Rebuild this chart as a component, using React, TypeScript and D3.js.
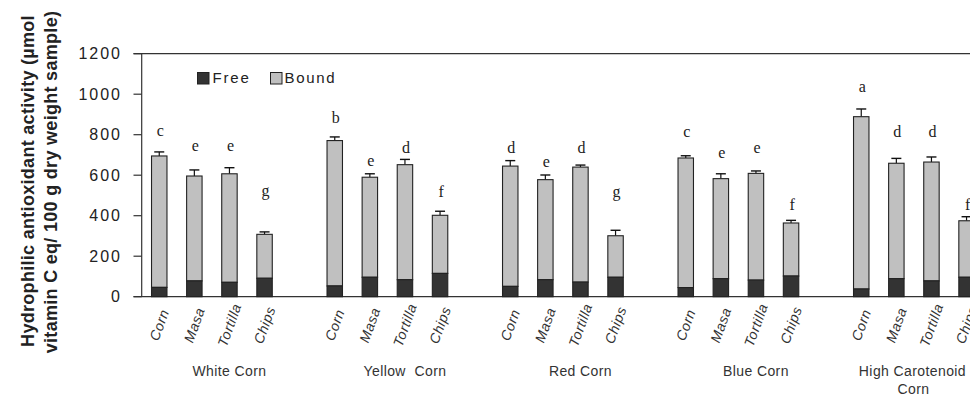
import React from "react";
import * as d3 from "d3";

const groups = ["White Corn", "Yellow  Corn", "Red Corn", "Blue Corn", "High Carotenoid Corn"];
const products = ["Corn", "Masa", "Tortilla", "Chips"];
const freeValues = [
  [46, 78, 71, 91],
  [53, 96, 84, 115],
  [51, 84, 72, 96],
  [45, 89, 82, 102],
  [38, 89, 78, 96],
];
const boundValues = [
  [649, 518, 536, 217],
  [718, 494, 568, 287],
  [594, 494, 568, 205],
  [640, 494, 527, 262],
  [851, 570, 587, 279],
];
const errValues = [
  [20, 30, 30, 12],
  [18, 17, 26, 20],
  [27, 23, 10, 27],
  [11, 24, 12, 13],
  [38, 24, 25, 20],
];
const letters = [
  ["c", "e", "e", "g"],
  ["b", "e", "d", "f"],
  ["d", "e", "d", "g"],
  ["c", "e", "e", "f"],
  ["a", "d", "d", "f"],
];
const letterAt = [
  [793, 719, 719, 497],
  [859, 645, 711, 494],
  [711, 640, 711, 490],
  [789, 687, 712, 426],
  [1009, 787, 787, 428],
];
const yTicks = [0, 200, 400, 600, 800, 1000, 1200];

const W = 970;
const H = 395;
const axisX = 141.7;
const slotsPerGroup = 5;
const slots: string[] = [];
groups.forEach((g, gi) => {
  for (let s = 0; s < slotsPerGroup; s++) slots.push(`${gi}-${s}`);
});

const x = d3
  .scaleBand<string>()
  .domain(slots)
  .range([axisX, axisX + slots.length * 35.1])
  .paddingInner(0.56)
  .paddingOuter(0.28);
const y = d3.scaleLinear().domain([0, 1200]).range([296.7, 53.7]);

const sans = "Liberation Sans, Arial, Helvetica, sans-serif";
const serif = "Liberation Serif, Times New Roman, serif";

export default function App() {
  const bw = x.bandwidth();
  const bars: React.ReactNode[] = [];
  groups.forEach((g, gi) => {
    products.forEach((p, pi) => {
      const key = `${gi}-${pi}`;
      const x0 = x(key)!;
      const cx = x0 + bw / 2;
      const f = freeValues[gi][pi];
      const b = boundValues[gi][pi];
      const tot = f + b;
      const e = errValues[gi][pi];
      bars.push(
        <g key={key}>
          <line x1={cx} x2={cx} y1={y(tot)} y2={y(tot + e)} stroke="#111" strokeWidth={1.2} />
          <line x1={cx - 5} x2={cx + 5} y1={y(tot + e)} y2={y(tot + e)} stroke="#111" strokeWidth={1.4} />
          <rect x={x0} y={y(tot)} width={bw} height={y(f) - y(tot)} fill="#c0c0c0" stroke="#222" strokeWidth={1.1} />
          <rect x={x0} y={y(f)} width={bw} height={y(0) - y(f)} fill="#333333" stroke="#222" strokeWidth={1.1} />
          <text x={cx + 1} y={y(letterAt[gi][pi])} textAnchor="middle" fontFamily={serif} fontSize={16} fill="#222">
            {letters[gi][pi]}
          </text>
          <text
            transform={`translate(${cx},${325}) rotate(-70)`}
            textAnchor="middle"
            dy="0.35em"
            fontFamily={sans}
            fontStyle="italic"
            fontSize={14}
            letterSpacing={0.5}
            fill="#333"
          >
            {p}
          </text>
        </g>
      );
    });
  });

  return (
    <svg width={W} height={H} style={{ position: "absolute", left: 0, top: 0, background: "#fff" }}>
      {/* y axis title */}
      <text
        transform={`translate(33.5,181) rotate(-90)`}
        textAnchor="middle"
        fontFamily={sans}
        fontWeight="bold"
        fontSize={18}
        letterSpacing={0.3}
        fill="#222"
      >
        Hydrophilic antioxidant activity (µmol
      </text>
      <text
        transform={`translate(57,182) rotate(-90)`}
        textAnchor="middle"
        fontFamily={sans}
        fontWeight="bold"
        fontSize={18}
        letterSpacing={0.3}
        fill="#222"
      >
        vitamin C eq/ 100 g dry weight sample)
      </text>

      {/* axes */}
      <line x1={133.5} x2={W} y1={y(1200)} y2={y(1200)} stroke="#333" strokeWidth={1.2} />
      <line x1={133.5} x2={W} y1={y(0)} y2={y(0)} stroke="#333" strokeWidth={1.2} />
      <line x1={axisX} x2={axisX} y1={y(1200)} y2={y(0)} stroke="#333" strokeWidth={1.2} />
      {yTicks.map((t) => (
        <g key={t}>
          <line x1={133.5} x2={axisX} y1={y(t)} y2={y(t)} stroke="#333" strokeWidth={1.2} />
          <text x={122} y={y(t)} dy="0.36em" textAnchor="end" fontFamily={sans} fontSize={16} letterSpacing={2} fill="#222">
            {t}
          </text>
        </g>
      ))}

      {bars}

      {/* group labels */}
      {groups.map((g, gi) => {
        const cx = x(`${gi}-2`)! + bw / 2;
        if (gi === groups.length - 1) {
          return (
            <text key={g} textAnchor="middle" fontFamily={sans} fontSize={14} letterSpacing={0.4} fill="#333">
              <tspan x={cx - 19} y={375.5}>High Carotenoid</tspan>
              <tspan x={cx - 18} y={393.5}>Corn</tspan>
            </text>
          );
        }
        return (
          <text key={g} x={cx} y={375.5} textAnchor="middle" fontFamily={sans} fontSize={14} letterSpacing={0.4} fill="#333" style={{ whiteSpace: "pre" }}>
            {g}
          </text>
        );
      })}

      {/* legend */}
      <rect x={197.5} y={72.5} width={11.5} height={11.5} fill="#333" stroke="#222" strokeWidth={1} />
      <text x={212.5} y={83} fontFamily={sans} fontSize={15} letterSpacing={1.8} fill="#222">Free</text>
      <rect x={270.5} y={72.5} width={11.5} height={11.5} fill="#c0c0c0" stroke="#222" strokeWidth={1} />
      <text x={284.5} y={83} fontFamily={sans} fontSize={15} letterSpacing={1.7} fill="#222">Bound</text>
    </svg>
  );
}
